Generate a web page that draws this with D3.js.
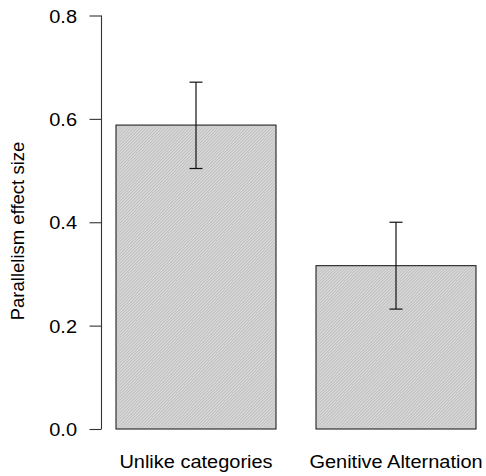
<!DOCTYPE html>
<html>
<head>
<meta charset="utf-8">
<script src="https://cdn.jsdelivr.net/npm/d3@7"></script>
<style>
  html, body { margin: 0; padding: 0; background: #fff; }
  svg { display: block; }
  text { font-family: "Liberation Sans", Arial, sans-serif; fill: #000; }
</style>
</head>
<body>
<svg id="chart" width="486" height="476"></svg>
<script>
const categories = ["Unlike categories", "Genitive Alternation"];
const values = [0.588, 0.316];
const upper = [0.671, 0.400];
const lower = [0.504, 0.232];
const yTicks = [0.0, 0.2, 0.4, 0.6, 0.8];
const yLabel = "Parallelism effect size";

const svg = d3.select("#chart");
const fontSize = 18.5, sx = 1.08;

const y = d3.scaleLinear().domain([0, 0.8]).range([429, 15.5]);
const x = d3.scaleBand().domain(categories).range([101, 491])
  .paddingInner(0.2).paddingOuter(0.075);

// hatch pattern
const defs = svg.append("defs");
const pat = defs.append("pattern")
  .attr("id", "hatch").attr("patternUnits", "userSpaceOnUse")
  .attr("width", 2.2).attr("height", 2.2)
  .attr("patternTransform", "rotate(45)");
pat.append("rect").attr("width", 2.2).attr("height", 2.2).attr("fill", "#dadada");
pat.append("line").attr("x1", 0.5).attr("y1", 0).attr("x2", 0.5).attr("y2", 2.2)
  .attr("stroke", "#bcbcbc").attr("stroke-width", 0.9);

// bars
svg.selectAll("rect.bar").data(categories).enter().append("rect")
  .attr("class", "bar")
  .attr("x", d => x(d))
  .attr("y", (d, i) => y(values[i]))
  .attr("width", x.bandwidth())
  .attr("height", (d, i) => y(0) - y(values[i]))
  .attr("fill", "url(#hatch)")
  .attr("stroke", "#222").attr("stroke-width", 1.1);

// error bars
const eb = svg.append("g").attr("stroke", "#111").attr("stroke-width", 1.2);
categories.forEach((c, i) => {
  const cx = x(c) + x.bandwidth() / 2;
  eb.append("line").attr("x1", cx).attr("x2", cx).attr("y1", y(upper[i])).attr("y2", y(lower[i]));
  eb.append("line").attr("x1", cx - 6.5).attr("x2", cx + 6.5).attr("y1", y(upper[i])).attr("y2", y(upper[i]));
  eb.append("line").attr("x1", cx - 6.5).attr("x2", cx + 6.5).attr("y1", y(lower[i])).attr("y2", y(lower[i]));
});

// y axis
const axis = d3.axisLeft(y).tickValues(yTicks).tickFormat(d3.format(".1f"))
  .tickSize(12).tickPadding(12);
const ag = svg.append("g").attr("transform", "translate(101.5,0)").call(axis);
ag.selectAll(".tick line").attr("stroke", "#333").attr("stroke-width", 1.1);
ag.selectAll(".domain").attr("stroke", "#333").attr("stroke-width", 1.1)
  .attr("d", `M0,${y(0.8)}V${y(0)}`);
ag.selectAll(".tick text")
  .attr("font-size", fontSize)
  .attr("font-family", "Liberation Sans, Arial, sans-serif")
  .attr("fill", "#000")
  .attr("x", null).attr("dy", null)
  .attr("text-anchor", "end")
  .attr("transform", d => `translate(-24.5,${6.6}) scale(${sx},1)`);

// x labels
svg.selectAll("text.xlab").data(categories).enter().append("text")
  .attr("class", "xlab")
  .attr("text-anchor", "middle")
  .attr("font-size", fontSize)
  .attr("transform", d => `translate(${x(d) + x.bandwidth() / 2},468) scale(${sx},1)`)
  .text(d => d);

// y label
svg.append("text")
  .attr("text-anchor", "middle")
  .attr("font-size", fontSize)
  .attr("transform", `translate(24,231) rotate(-90)`)
  .text(yLabel);
</script>
</body>
</html>
